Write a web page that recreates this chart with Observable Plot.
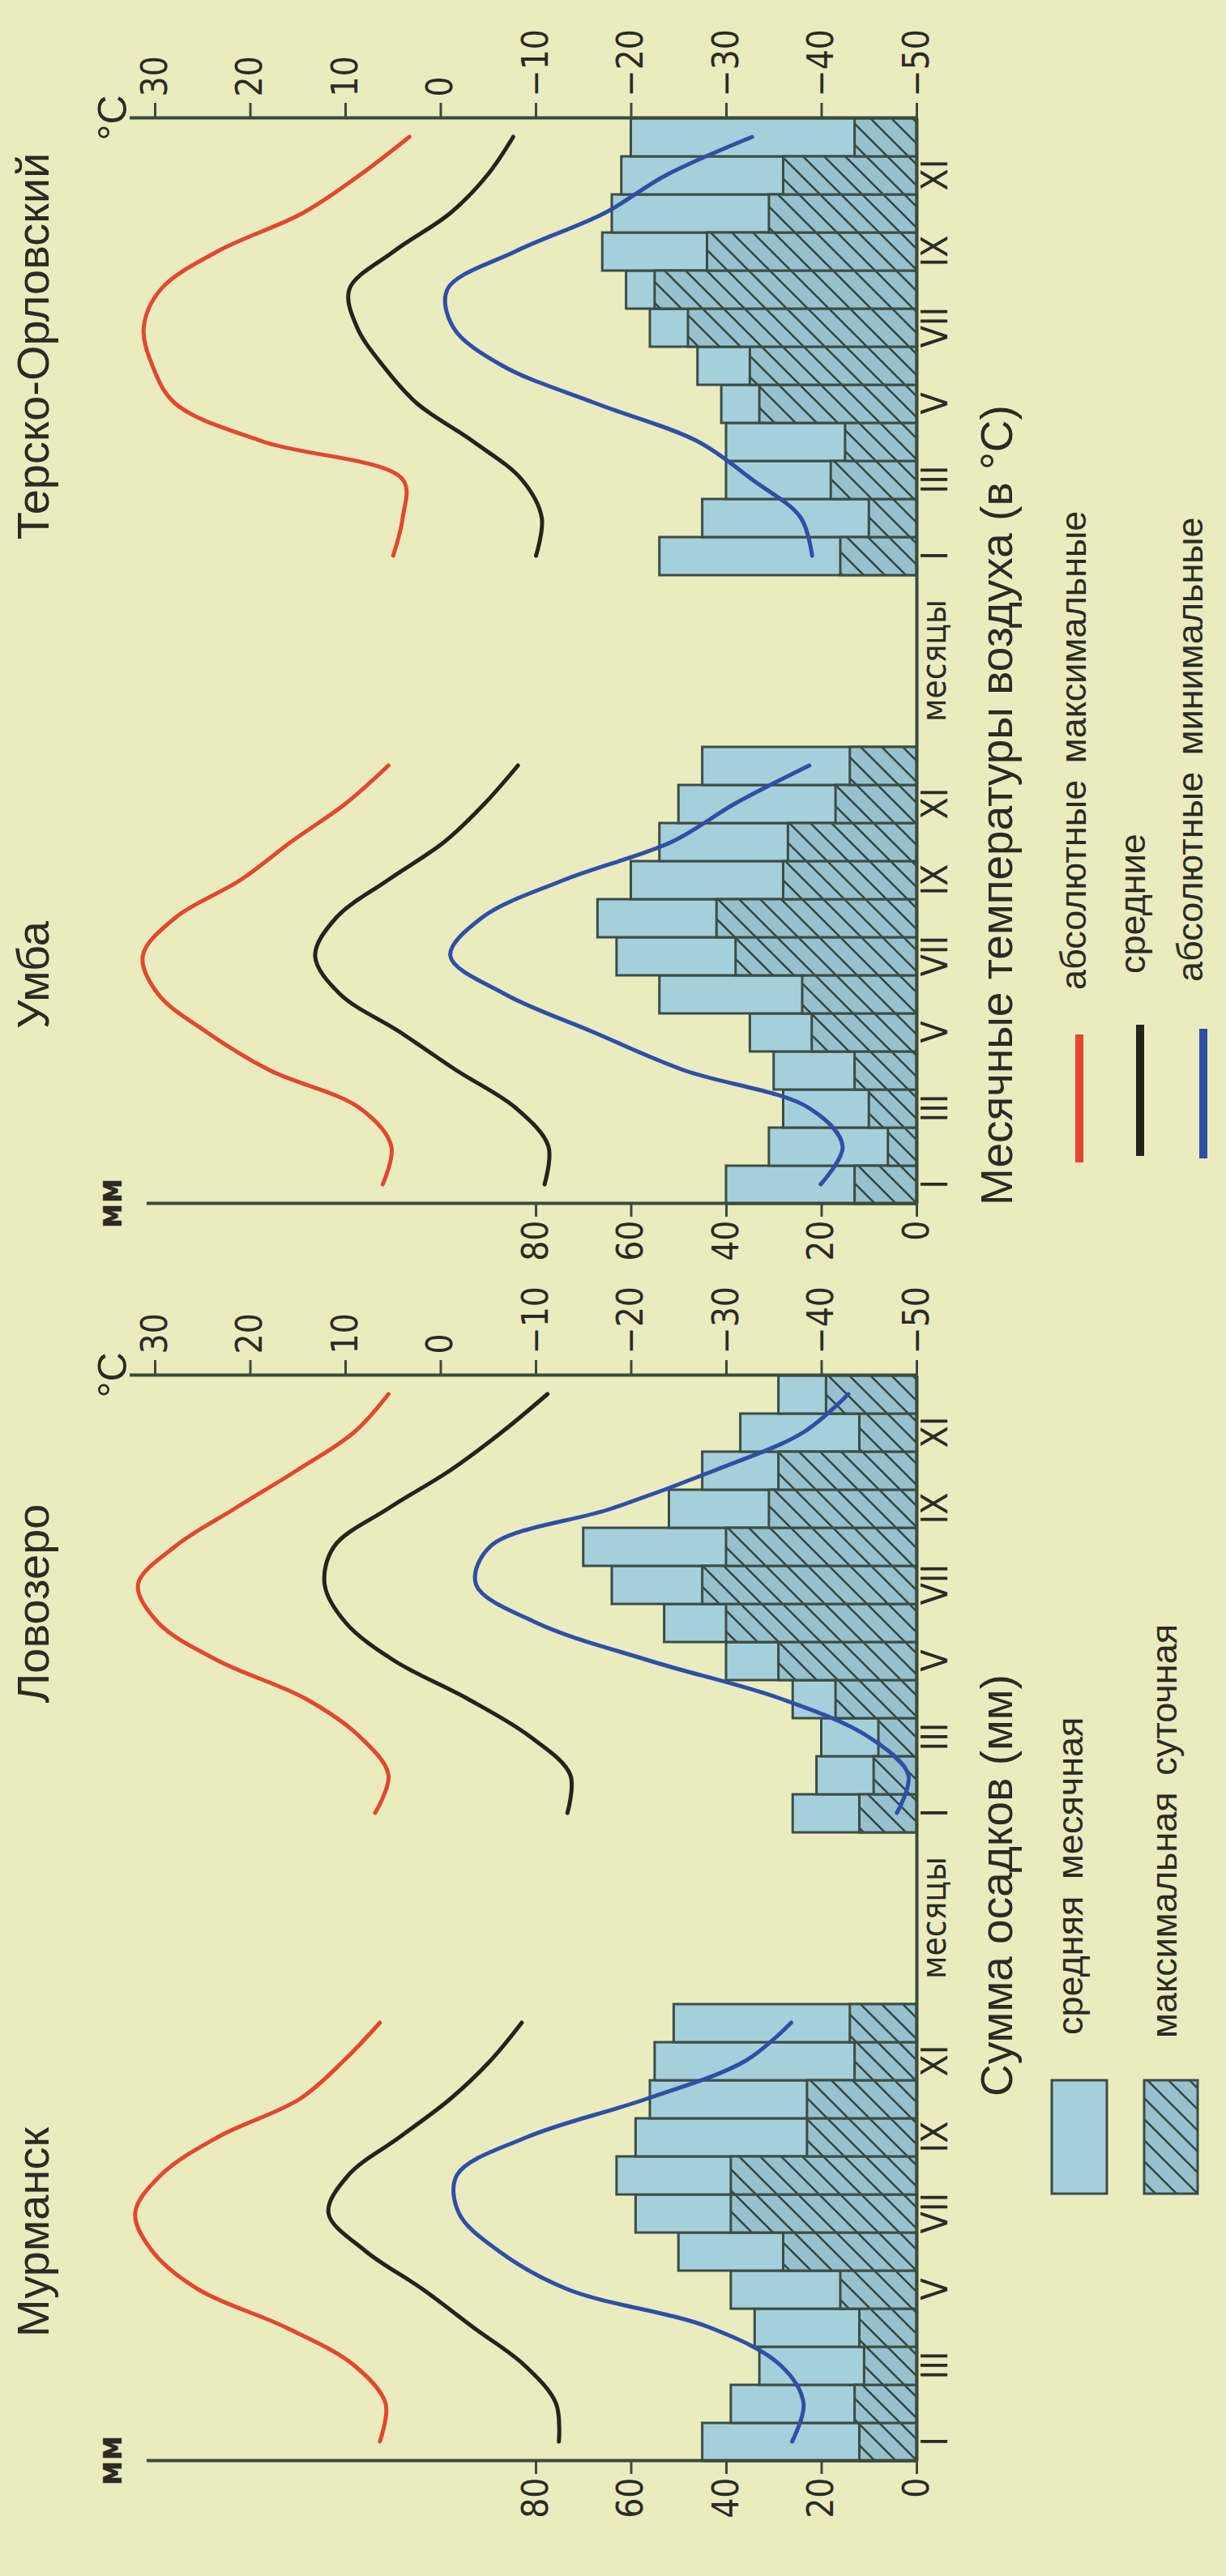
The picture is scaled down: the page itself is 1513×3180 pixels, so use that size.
<!DOCTYPE html>
<html><head><meta charset="utf-8">
<script src="https://cdn.jsdelivr.net/npm/d3@7"></script>
<script src="https://cdn.jsdelivr.net/npm/@observablehq/plot@0.6"></script>
<style>
html,body{margin:0;padding:0;}
body{width:1513px;height:3180px;background:#ebebc0;overflow:hidden;position:relative;font-family:"Liberation Sans",Arial,sans-serif;}
#land{position:absolute;left:0;top:0;width:3180px;height:1513px;transform-origin:0 0;transform:translate(0px,3180px) rotate(-90deg);}
.panel{position:absolute;top:0;}
.panel svg{overflow:visible;}
</style></head><body>
<svg width="0" height="0" style="position:absolute;left:0;top:0">
<defs>
<pattern id="hatch" patternUnits="userSpaceOnUse" width="26" height="26">
<rect width="26" height="26" fill="#97c1cf"></rect>
<path d="M-6.5,6.5 L6.5,-6.5 M0,26 L26,0 M19.5,32.5 L32.5,19.5" stroke="#34473f" stroke-width="2.6"></path>
</pattern>
</defs></svg>
<div id="land"></div>
<script>
// ---- data ----
const stations = ["Мурманск", "Ловозеро", "Умба", "Терско-Орловский"];
const months = [1, 2, 3, 4, 5, 6, 7, 8, 9, 10, 11, 12];
const monthNames = ["I", "II", "III", "IV", "V", "VI", "VII", "VIII", "IX", "X", "XI", "XII"];
const monthTicks = [1, 3, 5, 7, 9, 11];
const mmTicks = [0, 20, 40, 60, 80];
const tempTicks = [-50, -40, -30, -20, -10, 0, 10, 20, 30];

// precipitation, mm: mean monthly / max daily
const murmanskMean = [45, 39, 33, 34, 39, 50, 59, 63, 59, 56, 55, 51];
const murmanskMax  = [12, 13, 11, 12, 16, 28, 39, 39, 23, 23, 13, 14];
const lovozeroMean = [26, 21, 20, 26, 40, 53, 64, 70, 52, 45, 37, 29];
const lovozeroMax  = [12, 9, 8, 17, 29, 40, 45, 40, 31, 29, 12, 19];
const umbaMean     = [40, 31, 28, 30, 35, 54, 63, 67, 60, 54, 50, 45];
const umbaMax      = [13, 6, 10, 13, 22, 24, 38, 42, 28, 27, 17, 14];
const terskoMean   = [54, 45, 40, 40, 41, 46, 56, 61, 66, 64, 62, 60];
const terskoMax    = [16, 10, 18, 15, 33, 35, 48, 55, 44, 31, 28, 13];

// air temperature, °C: absolute max / mean / absolute min
const murmanskTmax  = [6.4, 5.8, 9.1, 16.3, 25.5, 30.3, 32.1, 29.4, 23.4, 14.8, 10.2, 6.4];
const murmanskTmean = [-12.4, -12.1, -8.8, -3.4, 1.9, 7.9, 11.8, 9.7, 4.3, -1.0, -5.2, -8.5];
const murmanskTmin  = [-36.9, -38.1, -35.7, -28.2, -13.3, -6.1, -1.9, -1.7, -9.1, -21.6, -32.0, -36.8];
const lovozeroTmax  = [6.9, 5.5, 8.5, 14.2, 23.4, 29.7, 31.8, 27.9, 21.6, 15.1, 9.1, 5.5];
const lovozeroTmean = [-13.3, -13.6, -9.4, -2.8, 4.9, 10.0, 12.2, 11.2, 5.5, -1.0, -6.4, -11.2];
const lovozeroTmin  = [-47.9, -49.1, -44.9, -35.7, -21.9, -10.0, -3.7, -5.2, -18.0, -28.8, -38.1, -42.8];
const umbaTmax      = [6.1, 5.2, 8.5, 18.0, 24.6, 29.7, 31.3, 27.9, 21.0, 15.7, 10.0, 5.5];
const umbaTmean     = [-10.9, -11.3, -7.9, -1.6, 4.3, 10.6, 13.2, 11.0, 5.5, -0.4, -4.6, -8.1];
const umbaTmin      = [-39.9, -42.2, -38.7, -25.5, -16.0, -6.7, -1.0, -4.3, -13.0, -24.3, -30.9, -38.7];
const terskoTmax    = [5.0, 4.0, 4.0, 18.7, 27.9, 30.3, 31.2, 29.4, 23.4, 14.5, 8.5, 3.3];
const terskoTmean   = [-10.0, -10.6, -8.5, -3.4, 2.5, 6.1, 8.8, 9.6, 4.9, -1.0, -4.9, -7.6];
const terskoTmin    = [-39.0, -37.8, -32.7, -27.0, -16.3, -6.4, -1.3, -0.7, -7.9, -17.2, -23.7, -32.7];

// ---- styling ----
const BAR = "#a6cfdc", EDGE = "#3c4d44", AX = "#3a4a3c", TXT = "#2b2b24";
const RED = "#e2482f", BLACK = "#24241e", BLUE = "#2f4fa6";
const SANS = "'Liberation Sans', Arial, sans-serif";
const NARROW = "'Liberation Sans Narrow', 'Arial Narrow', 'DejaVu Sans Condensed', 'Liberation Sans', sans-serif";

// temperature shares the precipitation axis: -50 °C ↔ 0 mm, 10 °C ↔ 20 mm
const toAxis = t => (t + 50) * 2;
const fromAxis = v => v / 2 - 50;
const fmtT = t => (t < 0 ? "\u2212" + Math.abs(t) : String(t));

function rows(mean, max, tmax, tmean, tmin) {
  return months.map((m, i) => ({month: m, mean: mean[i], max: max[i], tmax: tmax[i], tmean: tmean[i], tmin: tmin[i]}));
}
const series = [
  rows(murmanskMean, murmanskMax, murmanskTmax, murmanskTmean, murmanskTmin),
  rows(lovozeroMean, lovozeroMax, lovozeroTmax, lovozeroTmean, lovozeroTmin),
  rows(umbaMean, umbaMax, umbaTmax, umbaTmean, umbaTmin),
  rows(terskoMean, terskoMax, terskoTmax, terskoTmean, terskoTmin)
];

// panel layout in the landscape frame (page is rotated afterwards)
const layout = [
  {left: 0,    width: 918, marginLeft: 142, marginRight: 212, mm: true,  temp: false},
  {left: 918,  width: 706, marginLeft: 0,   marginRight: 142, mm: false, temp: true},
  {left: 1552, width: 918, marginLeft: 142, marginRight: 212, mm: true,  temp: false},
  {left: 2470, width: 710, marginLeft: 0,   marginRight: 146, mm: false, temp: true}
];

const land = document.getElementById("land");

stations.forEach((name, k) => {
  const cfg = layout[k], data = series[k];
  const marks = [
    Plot.rect(data, {x1: d => d.month - 0.5, x2: d => d.month + 0.5, y1: 0, y2: "mean", fill: BAR, stroke: EDGE, strokeWidth: 3}),
    Plot.rect(data, {x1: d => d.month - 0.5, x2: d => d.month + 0.5, y1: 0, y2: "max", fill: "url(#hatch)", stroke: EDGE, strokeWidth: 3}),
    Plot.line(data, {x: "month", y: d => toAxis(d.tmax), stroke: RED, strokeWidth: 5, curve: "catmull-rom", strokeLinecap: "round"}),
    Plot.line(data, {x: "month", y: d => toAxis(d.tmean), stroke: BLACK, strokeWidth: 5, curve: "catmull-rom", strokeLinecap: "round"}),
    Plot.line(data, {x: "month", y: d => toAxis(d.tmin), stroke: BLUE, strokeWidth: 5, curve: "catmull-rom", strokeLinecap: "round"}),
    Plot.ruleY([0], {stroke: AX, strokeWidth: 4, insetRight: cfg.mm ? -212 : 0}),
    Plot.axisX({ticks: monthTicks, tickFormat: m => monthNames[m - 1], tickSize: 0, tickPadding: 6, fontSize: 44, fontFamily: NARROW, fill: TXT, label: null}),
    Plot.text([name], {frameAnchor: "top", dy: -171, lineAnchor: "top", fontSize: 56, fontFamily: SANS, fill: TXT})
  ];
  if (cfg.mm) {
    marks.push(
      Plot.ruleX([0.5], {stroke: AX, strokeWidth: 4, insetTop: -10}),
      Plot.axisY({anchor: "left", ticks: mmTicks, tickSize: 16, tickPadding: 5, strokeWidth: 3, stroke: AX, fill: TXT, fontSize: 44, fontFamily: NARROW, label: null}),
      Plot.text(["мм"], {frameAnchor: "top-left", dy: -55, lineAnchor: "middle", textAnchor: "middle", fontSize: 42, fontFamily: NARROW, fontWeight: "bold", fill: TXT}),
      Plot.text(["месяцы"], {frameAnchor: "bottom-right", dx: 106, dy: 6, lineAnchor: "top", textAnchor: "middle", fontSize: 42, fontFamily: NARROW, fill: TXT})
    );
  }
  if (cfg.temp) {
    marks.push(
      Plot.ruleX([12.5], {stroke: AX, strokeWidth: 4, insetTop: -31}),
      Plot.axisY({anchor: "right", ticks: tempTicks.map(toAxis), tickFormat: v => fmtT(fromAxis(v)), tickSize: 18, tickPadding: 8, strokeWidth: 3, stroke: AX, fill: TXT, fontSize: 44, fontFamily: NARROW, label: null}),
      Plot.text(["°C"], {frameAnchor: "top-right", dy: -52, lineAnchor: "middle", textAnchor: "middle", fontSize: 50, fontFamily: SANS, fill: TXT})
    );
  }
  const svg = Plot.plot({
    width: cfg.width, height: 1190,
    marginLeft: cfg.marginLeft, marginRight: cfg.marginRight, marginTop: 191, marginBottom: 59,
    x: {domain: [0.5, 12.5]},
    y: {domain: [0, 160]},
    style: {background: "transparent", overflow: "visible", fontFamily: SANS, color: TXT},
    marks
  });
  const div = document.createElement("div");
  div.className = "panel";
  div.style.left = cfg.left + "px";
  div.appendChild(svg);
  land.appendChild(div);
});

// ---- legends (below the chart in the landscape frame) ----
const NS = "http://www.w3.org/2000/svg";
const leg = document.createElementNS(NS, "svg");
leg.setAttribute("width", 3180); leg.setAttribute("height", 1513);
leg.style.position = "absolute"; leg.style.left = "0"; leg.style.top = "0"; leg.style.overflow = "visible";
function el(tag, attrs, text) {
  const e = document.createElementNS(NS, tag);
  for (const k in attrs) e.setAttribute(k, attrs[k]);
  if (text) e.textContent = text;
  leg.appendChild(e); return e;
}
const tA = {fill: TXT, "font-family": "Liberation Sans, Arial, sans-serif"};
el("text", {...tA, x: 592, y: 1249, "font-size": 55}, "Сумма осадков (мм)");
el("rect", {x: 472, y: 1298, width: 140, height: 68, fill: BAR, stroke: EDGE, "stroke-width": 3});
el("text", {...tA, x: 668, y: 1336, "font-size": 45, "word-spacing": 8}, "средняя месячная");
el("rect", {x: 472, y: 1412, width: 140, height: 66, fill: "url(#hatch)", stroke: EDGE, "stroke-width": 3});
el("text", {...tA, x: 664, y: 1452, "font-size": 45, "word-spacing": 8}, "максимальная суточная");

el("text", {...tA, x: 1692, y: 1249, "font-size": 55}, "Месячные температуры воздуха (в °С)");
el("line", {x1: 1745, x2: 1903, y1: 1332, y2: 1332, stroke: RED, "stroke-width": 10});
el("text", {...tA, x: 1958, y: 1340, "font-size": 45, "word-spacing": 8}, "абсолютные максимальные");
el("line", {x1: 1753, x2: 1915, y1: 1407, y2: 1407, stroke: BLACK, "stroke-width": 10});
el("text", {...tA, x: 1978, y: 1413, "font-size": 45}, "средние");
el("line", {x1: 1750, x2: 1910, y1: 1485, y2: 1485, stroke: BLUE, "stroke-width": 10});
el("text", {...tA, x: 1968, y: 1484, "font-size": 45, "word-spacing": 8}, "абсолютные минимальные");
land.appendChild(leg);
</script>
</body></html>
